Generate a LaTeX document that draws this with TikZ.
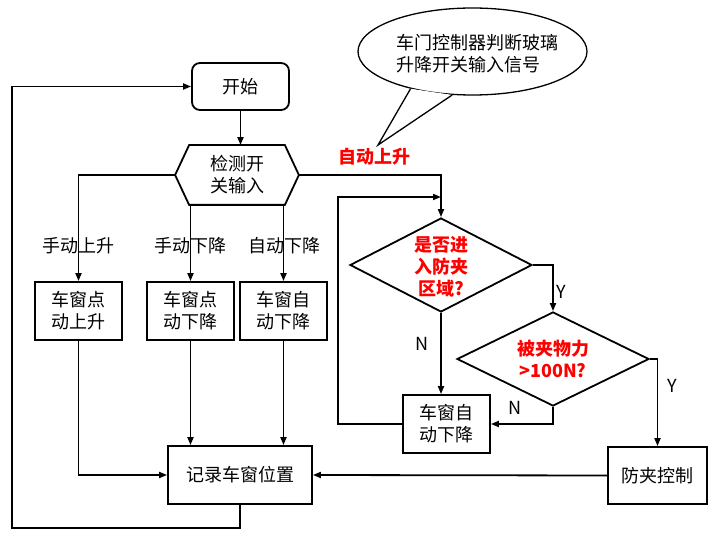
\documentclass[tikz,border=0pt]{standalone}
\usepackage{fontspec}
\setmainfont{Noto Sans CJK SC}
\usepackage{tikz}
\usetikzlibrary{calc,shapes,positioning}
\usetikzlibrary{arrows.meta}
\tikzset{>={Triangle[width=6pt,length=8pt]}}

\begin{document}
\begin{tikzpicture}[x=1pt, y=-1pt, line width=1.8pt, font=\fontsize{18}{22}\selectfont]
          \tikzstyle{snode} = [draw, rectangle, rounded corners=8pt, minimum width=97pt, minimum height=47pt, inner sep=0pt, align=center]
          \tikzstyle{bnode} = [draw, rectangle, minimum width=87pt, minimum height=58pt, inner sep=0pt, align=center]
          \tikzstyle{hnode} = [rectangle, minimum width=122pt, minimum height=58pt, inner sep=0pt, align=center]
          \tikzstyle{dnode} = [draw, diamond, inner sep=0pt]
          \tikzstyle{dtext} = [inner sep=0pt, align=center, text=red, font=\fontsize{18}{22}\selectfont\bfseries]
          \tikzstyle{lnode} = [inner sep=1pt]
          \useasboundingbox (0,0) rectangle (720,537);

          % left part
          \node[snode] (start) at (240.5,86.5) {开始};
          \node[hnode] (chk) at (237,175) {检测开\\关输入};
          \draw (chk.west) -- ([xshift=14pt]chk.north west) -- ([xshift=-14pt]chk.north east) -- (chk.east)
                -- ([xshift=-14pt]chk.south east) -- ([xshift=14pt]chk.south west) -- cycle;
          \node[bnode] (b1) at (78.5,311) {车窗点\\动上升};
          \node[bnode] (b2) at (190.5,311) {车窗点\\动下降};
          \node[bnode] (b3) at (283.5,311) {车窗自\\动下降};
          \node[bnode, minimum width=144pt] (rec) at (240,475) {记录车窗位置};
          \node[lnode] (l1) at (78,246) {手动上升};
          \node[lnode] (l2) at (190,246) {手动下降};
          \node[lnode] (l3) at (284,246) {自动下降};
          \coordinate (lp) at (12,528);

          \draw[->] (start) -- (start |- chk.north);
          \draw[->] (chk.west) -| (b1.north);
          \draw[->] (b2 |- chk.south) -- (b2);
          \draw[->] (b3 |- chk.south) -- (b3);
          \draw[->] (b1) |- (rec);
          \draw[->] (b2) -- (b2 |- rec.north);
          \draw[->] (b3) -- (b3 |- rec.north);
          \draw[->] (rec.south) |- (lp) |- (start.west);

          % right part
          \node[ellipse, draw, line width=1.3pt, minimum width=229pt, minimum height=87pt] (bub) at (472.5,51.5) {};
          \coordinate (tip) at (378,145);
          \fill[white] (bub.211) -- (tip) -- (bub.245) -- cycle;
          \draw[line width=1.3pt, line join=miter] (bub.211) -- (tip) -- (bub.245);
          \node[align=left, inner sep=0pt] (bubt) at (477,54) {车门控制器判断玻璃\\升降开关输入信号};
          \node[text=red, font=\fontsize{18}{22}\selectfont\bfseries] (up) at (374,157) {自动上升};

          \node[dnode, minimum width=182pt, minimum height=94pt] (d1) at (441,265) {};
          \node[dtext] (d1t) at (441,267) {是否进\\入防夹\\区域?};
          \node[dnode, minimum width=192pt, minimum height=94pt] (d2) at (553,359) {};
          \node[dtext] (d2t) at (d2) {被夹物力\\>100N?};
          \node[bnode] (auto) at (446.5,424) {车窗自\\动下降};
          \node[bnode, minimum width=99pt, minimum height=57pt] (anti) at (657.5,475.5) {防夹控制};
          \coordinate (lb) at (338,197);
          \node[lnode] (y1) at (561,292) {Y};
          \node[lnode] (y2) at (672,386) {Y};
          \node[lnode] (n1) at (422,344) {N};
          \node[lnode] (n2) at (515,408) {N};

          \draw[->] (chk.east) -| (d1.north);
          \draw[->] (d1.east) -| (d2.north);
          \draw[->] (d2.east) -| (anti.north);
          \draw[->] (anti.west) -- (rec.east);
          \draw[->] (d1.south) -- (d1.south |- auto.north);
          \draw[->] (d2.south) |- (auto.east);
          \draw[->] (auto.west) -| (lb) -- (lb -| d1.north);
        \end{tikzpicture}
\end{document}
